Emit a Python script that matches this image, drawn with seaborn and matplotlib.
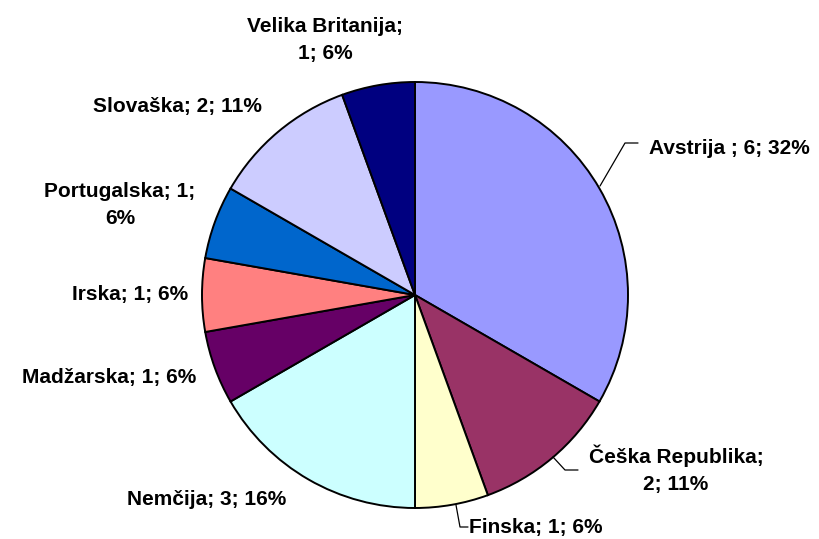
import matplotlib
matplotlib.use('Agg')
import matplotlib.pyplot as plt
import seaborn as sns

countries = ['Avstrija ', 'Češka Republika', 'Finska', 'Nemčija', 'Madžarska',
             'Irska', 'Portugalska', 'Slovaška', 'Velika Britanija']
counts = [6, 2, 1, 3, 1, 1, 1, 2, 1]
pct_labels = ['32%', '11%', '6%', '16%', '6%', '6%', '6%', '11%', '6%']
colors = ['#9999FF', '#993366', '#FFFFCC', '#CCFFFF', '#660066',
          '#FF8080', '#0066CC', '#CCCCFF', '#000080']

sns.set_theme(style='white')
plt.rcParams['font.family'] = ['Liberation Sans', 'DejaVu Sans']

W, H = 820, 539
fig = plt.figure(figsize=(8.2, 5.39), dpi=100)
ax = fig.add_axes([0, 0, 1, 1])

cx, cy, r = 415, H - 295, 213
ax.pie(counts, colors=colors, startangle=90, counterclock=False,
       center=(cx, cy), radius=r, frame=True,
       wedgeprops=dict(edgecolor='black', linewidth=1.4))
ax.set_xlim(0, W)
ax.set_ylim(0, H)
ax.set_aspect('equal')
ax.axis('off')

# label text (pixel positions measured from top-left)
texts = [
    (f'{countries[0]}; {counts[0]}; {pct_labels[0]}', 729, 148),
    (f'{countries[1]};\n{counts[1]}; {pct_labels[1]}', 676, 469),
    (f'{countries[2]}; {counts[2]}; {pct_labels[2]}', 536, 527),
    (f'{countries[3]}; {counts[3]}; {pct_labels[3]}', 207, 500),
    (f'{countries[4]}; {counts[4]}; {pct_labels[4]}', 109, 377),
    (f'{countries[5]}; {counts[5]}; {pct_labels[5]}', 130, 294),
    (f'{countries[6]}; {counts[6]};\n{pct_labels[6]}', 120, 205),
    (f'{countries[7]}; {counts[7]}; {pct_labels[7]}', 177, 106),
    (f'{countries[8]};\n{counts[8]}; {pct_labels[8]}', 325, 40),
]
for s, x, y in texts:
    ax.text(x, H - y, s, ha='center', va='center', fontsize=15, fontweight='bold',
            color='black', linespacing=1.55)

# leader lines
leaders = [
    ([600, 625, 638], [186, 143, 143]),
    ([553, 565, 578], [457, 470, 470]),
    ([456, 460, 468], [505, 527, 527]),
]
for xs, ys in leaders:
    ax.plot(xs, [H - y for y in ys], color='black', linewidth=0.9)

fig.savefig('out.png', dpi=100, facecolor='white')
